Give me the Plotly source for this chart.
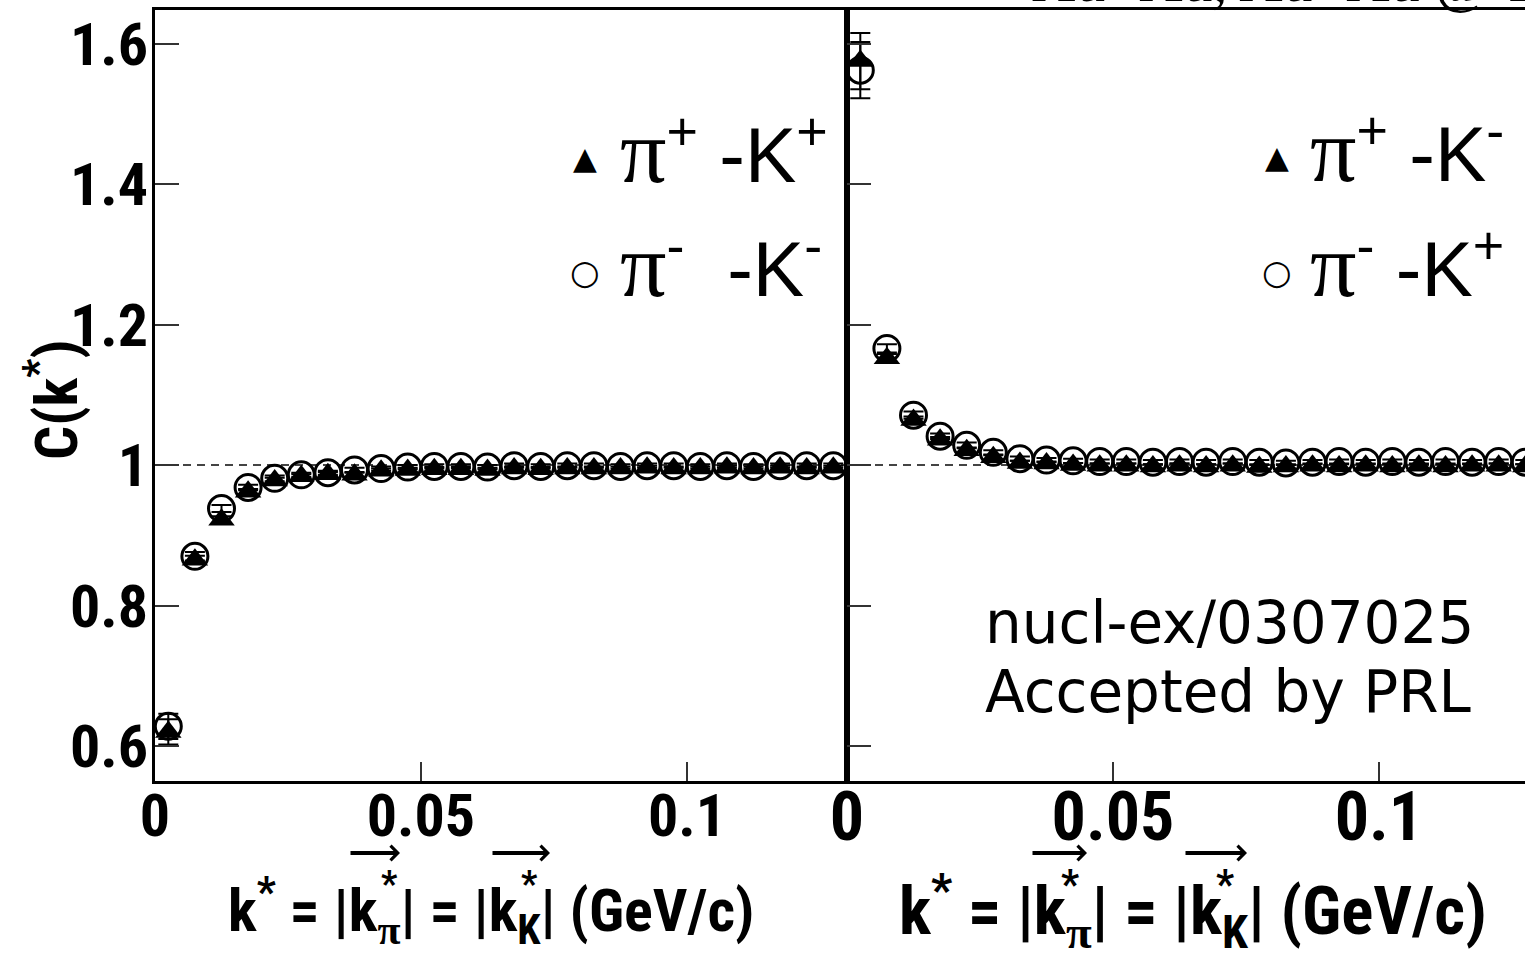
import plotly.graph_objects as go

W, H = 1525, 956

# ---------------- data ----------------
k_star = [0.0025, 0.0075, 0.0125, 0.0175, 0.0225, 0.0275, 0.0325, 0.0375, 0.0425,
          0.0475, 0.0525, 0.0575, 0.0625, 0.0675, 0.0725, 0.0775, 0.0825, 0.0875,
          0.0925, 0.0975, 0.1025, 0.1075, 0.1125, 0.1175, 0.1225, 0.1275]

# left panel: like-sign pairs
c_pipKp = [0.620, 0.865, 0.922, 0.962, 0.978, 0.984, 0.987, 0.986, 0.992, 0.993,
           0.994, 0.994, 0.993, 0.995, 0.994, 0.995, 0.995, 0.995, 0.996, 0.995,
           0.995, 0.996, 0.995, 0.996, 0.995, 0.996]
c_pimKm = [0.628, 0.870, 0.938, 0.968, 0.981, 0.986, 0.989, 0.993, 0.995, 0.997,
           0.998, 0.998, 0.997, 0.999, 0.998, 0.999, 0.999, 0.998, 0.999, 0.999,
           0.998, 0.999, 0.998, 0.999, 0.999, 0.999]
err_pipKp = [0.018, 0.006, 0.005, 0.004, 0.004, 0.003, 0.003, 0.003, 0.003, 0.003,
             0.003, 0.003, 0.003, 0.003, 0.003, 0.003, 0.003, 0.003, 0.003, 0.003,
             0.003, 0.003, 0.003, 0.003, 0.003, 0.003]
err_pimKm = [0.018, 0.006, 0.005, 0.004, 0.004, 0.003, 0.003, 0.003, 0.003, 0.003,
             0.003, 0.003, 0.003, 0.003, 0.003, 0.003, 0.003, 0.003, 0.003, 0.003,
             0.003, 0.003, 0.003, 0.003, 0.003, 0.003]

# right panel: unlike-sign pairs
c_pipKm = [1.575, 1.152, 1.064, 1.036, 1.021, 1.011, 1.003, 1.002, 1.000, 0.999,
           0.999, 0.998, 0.999, 0.998, 0.999, 0.997, 0.998, 0.999, 0.998, 0.999,
           0.998, 0.999, 0.998, 0.999, 0.999, 0.998]
c_pimKp = [1.562, 1.166, 1.071, 1.041, 1.028, 1.018, 1.009, 1.007, 1.006, 1.005,
           1.005, 1.004, 1.005, 1.004, 1.005, 1.004, 1.003, 1.004, 1.005, 1.004,
           1.005, 1.004, 1.005, 1.004, 1.005, 1.004]
err_pipKm = [0.040, 0.006, 0.005, 0.004, 0.004, 0.003, 0.003, 0.003, 0.003, 0.003,
             0.003, 0.003, 0.003, 0.003, 0.003, 0.003, 0.003, 0.003, 0.003, 0.003,
             0.003, 0.003, 0.003, 0.003, 0.003, 0.003]
err_pimKp = [0.040, 0.006, 0.005, 0.004, 0.004, 0.003, 0.003, 0.003, 0.003, 0.003,
             0.003, 0.003, 0.003, 0.003, 0.003, 0.003, 0.003, 0.003, 0.003, 0.003,
             0.003, 0.003, 0.003, 0.003, 0.003, 0.003]

x_tick_vals = [0, 0.05, 0.1]
x_tick_text = ["0", "0.05", "0.1"]
y_tick_vals = [0.6, 0.8, 1.0, 1.2, 1.4, 1.6]
y_tick_text = ["0.6", "0.8", "1", "1.2", "1.4", "1.6"]

# ---------------- styling ----------------
NARROW = "Roboto Condensed, Liberation Sans, Arial, sans-serif"
SANS = "Liberation Sans, Arial, sans-serif"
SERIF = "Liberation Serif"


def fx(px):
    return px / W


def fy(py):
    return 1 - py / H


fig = go.Figure()


def add_pair(xa, ya, tri, tri_err, circ, circ_err):
    fig.add_trace(go.Scatter(
        x=k_star, y=tri, mode="markers", xaxis=xa, yaxis=ya,
        marker=dict(symbol="triangle-up", size=23, color="black", line=dict(width=0)),
        error_y=dict(type="data", array=tri_err, color="black", thickness=2, width=10),
        showlegend=False))
    fig.add_trace(go.Scatter(
        x=k_star, y=circ, mode="markers", xaxis=xa, yaxis=ya,
        marker=dict(symbol="circle-open", size=26, color="black", line=dict(width=3, color="black")),
        error_y=dict(type="data", array=circ_err, color="black", thickness=2, width=10),
        showlegend=False))


add_pair("x", "y", c_pipKp, err_pipKp, c_pimKm, err_pimKm)
add_pair("x2", "y2", c_pipKm, err_pipKm, c_pimKp, err_pimKp)

xdom1 = [fx(155), fx(847)]
xdom2 = [fx(847), 1.0]
ydom = [fy(781), fy(10)]
yrange = [0.5502, 1.6477]

common_x = dict(showgrid=False, zeroline=False, showline=True, linecolor="black", linewidth=3,
                mirror=True, ticks="inside", ticklen=19, tickwidth=2, tickcolor="#333",
                tickvals=x_tick_vals, ticktext=x_tick_text, automargin=False)
common_y = dict(showgrid=False, zeroline=False, showline=True, linecolor="black", linewidth=3,
                ticks="inside", ticklen=24, tickwidth=2, tickcolor="#333",
                tickvals=y_tick_vals, ticktext=y_tick_text, range=yrange, automargin=False)

fig.update_layout(
    width=W, height=H, margin=dict(l=0, r=0, t=0, b=0),
    paper_bgcolor="white", plot_bgcolor="white", showlegend=False,
    xaxis=dict(domain=xdom1, range=[0, 692 / 5320], anchor="y", ticklabelstandoff=-20,
               tickfont=dict(family=NARROW, size=60, color="black", weight="bold"), **common_x),
    yaxis=dict(domain=ydom, anchor="x", mirror=True, ticklabelstandoff=-8,
               tickfont=dict(family=NARROW, size=60, color="black", weight="bold"), **common_y),
    xaxis2=dict(domain=xdom2, range=[0, 678 / 5320], anchor="y2", ticklabelstandoff=-26,
                tickfont=dict(family=NARROW, size=68, color="black", weight="bold"), **common_x),
    yaxis2=dict(domain=ydom, anchor="x2", mirror=False, showticklabels=False, **common_y),
)

# reference line C = 1
for xr, yr, xmax in (("x", "y", 692 / 5320), ("x2", "y2", 678 / 5320)):
    fig.add_shape(type="line", xref=xr, yref=yr, x0=0, x1=xmax, y0=1, y1=1,
                  line=dict(color="#444", width=2, dash="8px,6px"), layer="below")

ann = []

# y-axis title
ann.append(dict(text="C(k<sup>*</sup>)", x=fx(52), y=fy(400), xref="paper", yref="paper",
                xanchor="center", yanchor="middle", textangle=-90, showarrow=False,
                font=dict(family=NARROW, size=60, color="black", weight="bold")))

# x-axis titles with arrows
def x_title(x_left, size, arrows, stars):
    ann.append(dict(text="k<sup>*</sup> = |k<sub><span style='font-family:Liberation Serif'>π</span></sub>| = |k<sub>K</sub>| (GeV/c)",
                    x=fx(x_left), y=fy(910), xref="paper", yref="paper", xanchor="left",
                    yanchor="middle", showarrow=False,
                    font=dict(family=NARROW, size=size, color="black", weight="bold")))
    for (a0, a1) in arrows:
        ann.append(dict(text="", x=fx(a1), y=fy(853), xref="paper", yref="paper",
                        ax=-(a1 - a0), ay=0, showarrow=True, arrowhead=4, arrowsize=0.7,
                        arrowwidth=4, arrowcolor="black", standoff=0))
    for sx in stars:
        ann.append(dict(text="*", x=fx(sx), y=fy(884), xref="paper", yref="paper",
                        xanchor="center", yanchor="middle", showarrow=False,
                        font=dict(family=NARROW, size=int(size * 0.6), color="black", weight="bold")))


x_title(226, 60, [(349, 400), (491, 550)], [389, 529])
x_title(897, 67, [(1031, 1087), (1184, 1247)], [1070, 1225])

# legends (drawn as text)
def legend(x_sym, x_txt, y1, y2, t1, t2):
    ann.append(dict(text="▲", x=fx(x_sym), y=fy(y1), xref="paper", yref="paper",
                    xanchor="center", yanchor="middle",
                    showarrow=False, font=dict(family="DejaVu Sans", size=31, color="black")))
    ann.append(dict(text="○", x=fx(x_sym), y=fy(y2), xref="paper", yref="paper",
                    xanchor="center", yanchor="middle",
                    showarrow=False, font=dict(family="DejaVu Sans", size=34, color="black")))
    for t, y in ((t1, y1), (t2, y2)):
        ann.append(dict(text=t, x=fx(x_txt), y=fy(y - 7), xref="paper", yref="paper",
                        xanchor="left", yanchor="middle", showarrow=False,
                        font=dict(family=SANS, size=77, color="black")))


PI = "<span style='font-family:Liberation Serif;font-size:92px'>π</span>"
legend(585, 618, 158, 272, PI + "<sup>+</sup> -K<sup>+</sup>", PI + "<sup>-</sup>  -K<sup>-</sup>")
legend(1277, 1308, 157, 272, PI + "<sup>+</sup> -K<sup>-</sup>", PI + "<sup>-</sup> -K<sup>+</sup>")

# notes
ann.append(dict(text="nucl-ex/0307025", x=fx(983), y=fy(623), xref="paper", yref="paper",
                xanchor="left", yanchor="middle", showarrow=False,
                font=dict(family="DejaVu Sans", size=58, color="black")))
ann.append(dict(text="Accepted by PRL", x=fx(983), y=fy(692), xref="paper", yref="paper",
                xanchor="left", yanchor="middle", showarrow=False,
                font=dict(family="DejaVu Sans", size=58, color="black")))

# partially cut-off header text at the top
ann.append(dict(text="Au+Au, Au+Au @ 130 GeV", x=fx(1030), y=fy(16), xref="paper", yref="paper",
                xanchor="left", yanchor="bottom", showarrow=False,
                font=dict(family=SERIF, size=60, color="black")))

fig.update_layout(annotations=ann)

fig.write_html("out.html")
